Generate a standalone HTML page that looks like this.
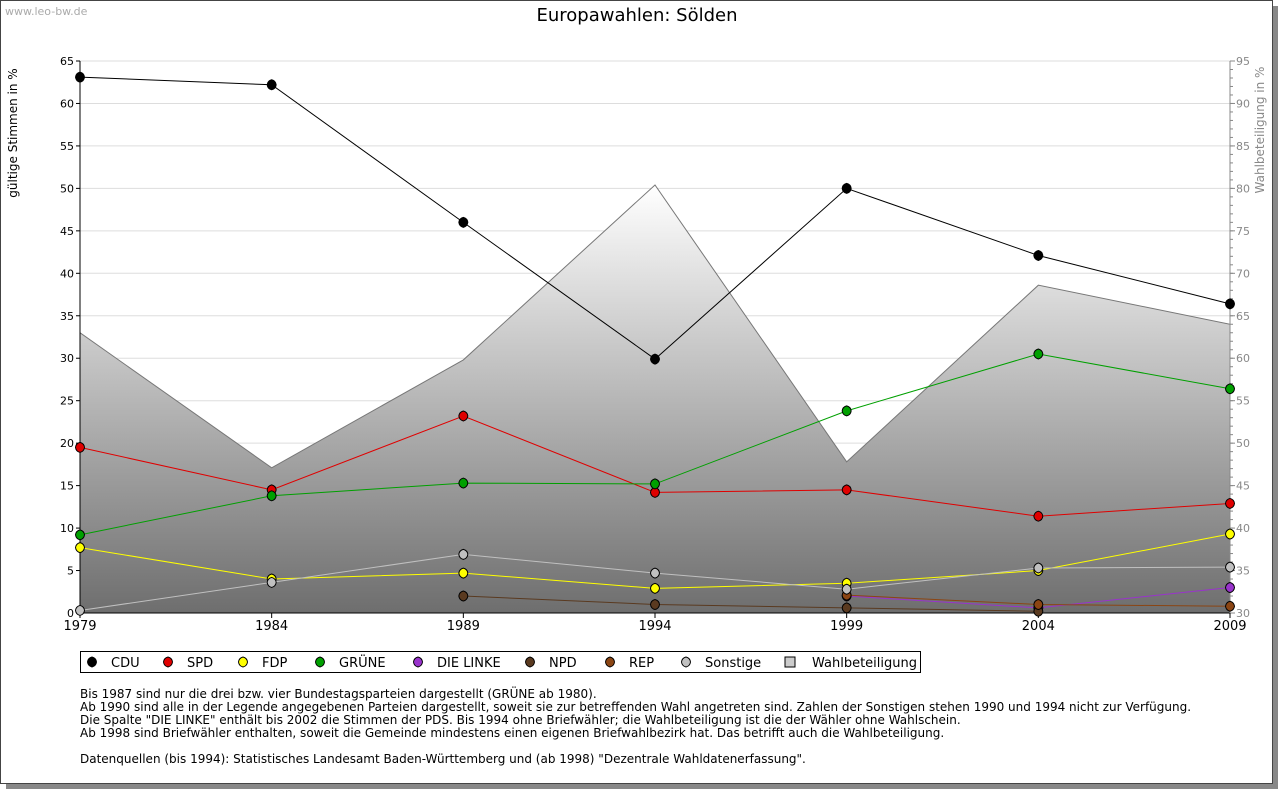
<!DOCTYPE html>
<html><head><meta charset="utf-8"><style>
body{margin:0;background:#fff;font-family:"DejaVu Sans","Liberation Sans",sans-serif;}
#wrap{position:relative;width:1280px;height:791px;}
</style></head><body>
<div id="wrap">
<svg id="svg" width="1280" height="791" xmlns="http://www.w3.org/2000/svg" font-family="DejaVu Sans, Liberation Sans, sans-serif">
<defs>
<linearGradient id="g" x1="0" y1="0" x2="0" y2="1">
<stop offset="0" stop-color="#ffffff"/><stop offset="1" stop-color="#6e6e6e"/></linearGradient>
</defs>
<rect x="6" y="6" width="1272" height="783" fill="#888"/>
<rect x="0.5" y="0.5" width="1272" height="783" fill="#fff" stroke="#444"/>
<text x="5" y="15" font-size="11" fill="#aaa">www.leo-bw.de</text>
<text x="637" y="21" font-size="18" text-anchor="middle" fill="#000">Europawahlen: Sölden</text>
<text transform="translate(17,133) rotate(-90)" font-size="12" text-anchor="middle">gültige Stimmen in %</text>
<text transform="translate(1264,130) rotate(-90)" font-size="12" fill="#888" text-anchor="middle">Wahlbeteiligung in %</text>
<g id="grid"></g><g id="area"></g><g id="axes"></g><g id="lines"></g>
<g>
<rect x="80.5" y="651.5" width="840" height="21" fill="#fff" stroke="#000"/>
<g id="leg"></g></g>
<g font-size="12" fill="#000">
<text x="80" y="698">Bis 1987 sind nur die drei bzw. vier Bundestagsparteien dargestellt (GRÜNE ab 1980).</text>
<text x="80" y="711">Ab 1990 sind alle in der Legende angegebenen Parteien dargestellt, soweit sie zur betreffenden Wahl angetreten sind. Zahlen der Sonstigen stehen 1990 und 1994 nicht zur Verfügung.</text>
<text x="80" y="724">Die Spalte "DIE LINKE" enthält bis 2002 die Stimmen der PDS. Bis 1994 ohne Briefwähler; die Wahlbeteiligung ist die der Wähler ohne Wahlschein.</text>
<text x="80" y="737">Ab 1998 sind Briefwähler enthalten, soweit die Gemeinde mindestens einen eigenen Briefwahlbezirk hat. Das betrifft auch die Wahlbeteiligung.</text>
<text x="80" y="763">Datenquellen (bis 1994): Statistisches Landesamt Baden-Württemberg und (ab 1998) "Dezentrale Wahldatenerfassung".</text>
</g>
</svg>
</div>
<script>
const years=[1979,1984,1989,1994,1999,2004,2009];
const cdu=[63.1,62.2,46.0,29.9,50.0,42.1,36.4];
const spd=[19.5,14.5,23.2,14.2,14.5,11.4,12.9];
const fdp=[7.7,4.0,4.7,2.9,3.5,5.0,9.3];
const gruene=[9.2,13.8,15.3,15.2,23.8,30.5,26.4];
const linke=[null,null,null,null,2.0,0.6,3.0];
const npd=[null,null,2.0,1.0,0.6,0.2,null];
const rep=[null,null,null,null,2.1,1.0,0.8];
const sonstige=[0.3,3.6,6.9,4.7,2.8,5.3,5.4];
const turnout=[63.0,47.1,59.8,80.4,47.8,68.6,64.0];
const leftTicks=[0,5,10,15,20,25,30,35,40,45,50,55,60,65];
const rightTicks=[30,35,40,45,50,55,60,65,70,75,80,85,90,95];
const NS="http://www.w3.org/2000/svg";
const X0=80,X1=1230,Y0=613,Y1=61;
const xs=i=>X0+(X1-X0)*i/(years.length-1);
const ys=v=>Y0-(Y0-Y1)*v/65;
const ys2=v=>Y0-(Y0-Y1)*(v-30)/65;
function mk(t,a,p){const e=document.createElementNS(NS,t);for(const k in a)e.setAttribute(k,a[k]);p.appendChild(e);return e;}
const grid=document.getElementById('grid'),axes=document.getElementById('axes'),lines=document.getElementById('lines'),area=document.getElementById('area'),leg=document.getElementById('leg');
leftTicks.forEach(t=>{const y=ys(t);
 if(t>0){const l=mk('line',{x1:X0,x2:X1,y1:y,y2:y,stroke:'#ddd'},grid);
 
 }
 mk('line',{x1:X0-4,x2:X0,y1:y,y2:y,stroke:'#000'},axes);
 const tx=mk('text',{x:X0-6,y:y+4,'font-size':11,'text-anchor':'end'},axes);tx.textContent=t;
 
 });
rightTicks.forEach(t=>{const y=ys2(t);
 mk('line',{x1:X1,x2:X1+5,y1:y,y2:y,stroke:'#888'},axes);
 const tx=mk('text',{x:X1+6,y:y+4,'font-size':11,fill:'#888'},axes);tx.textContent=t;
 
 });
for(let t=30;t<95;t++){const y=ys2(t);mk('line',{x1:X1,x2:X1+3,y1:y,y2:y,stroke:'#888'},axes);}
let d='M'+X0+','+Y0;turnout.forEach((v,i)=>d+=' L'+xs(i)+','+ys2(v));d+=' L'+X1+','+Y0+'Z';
const ar=mk('path',{d:d,fill:'url(#g)',stroke:'#777'},area);


mk('line',{x1:X0,x2:X1,y1:Y0,y2:Y0,stroke:'#000'},axes);
mk('line',{x1:X0,x2:X0,y1:Y1,y2:Y0,stroke:'#000'},axes);
mk('line',{x1:X1,x2:X1,y1:Y1,y2:Y0,stroke:'#888'},axes);
years.forEach((yr,i)=>{mk('line',{x1:xs(i),x2:xs(i),y1:Y0,y2:Y0+5,stroke:'#000'},axes);
 const tx=mk('text',{x:xs(i),y:Y0+17,'font-size':13,'text-anchor':'middle'},axes);tx.textContent=yr;
 
 });
const series=[['CDU',cdu,'#000'],['SPD',spd,'#e00000'],['FDP',fdp,'#ffff00'],['GRÜNE',gruene,'#00a000'],['DIE LINKE',linke,'#9933cc'],['NPD',npd,'#5a3a20'],['REP',rep,'#8b4513'],['Sonstige',sonstige,'#c0c0c0']];
function diamond(x,y,c,p){return mk('path',{d:`M${x},${y-5}Q${x+4},${y-4} ${x+4.5},${y}Q${x+4},${y+4} ${x},${y+5}Q${x-4},${y+4} ${x-4.5},${y}Q${x-4},${y-4} ${x},${y-5}Z`,fill:c,stroke:'#000','stroke-width':1},p);}
series.forEach(([n,vals,c])=>{const g=mk('g',{},lines);
 
 
 let pd='',pen=false;vals.forEach((v,i)=>{if(v==null){pen=false;return;}pd+=(pen?'L':'M')+xs(i)+','+ys(v);pen=true;});
 mk('path',{d:pd,fill:'none',stroke:c,'stroke-width':1},g);
 vals.forEach((v,i)=>{if(v==null)return;const m=diamond(xs(i),ys(v),c,g);
 
 });});
const legX=[92,168,243,320,418,530,610,686,790];
series.forEach(([n,v,c],i)=>{const g=mk('g',{},leg);
 
 
 diamond(legX[i],662,c,g);
 const t=mk('text',{x:legX[i]+19,y:667,'font-size':13},g);t.textContent=n;});
const g=mk('g',{},leg);


mk('rect',{x:legX[8]-5,y:657,width:10,height:10,fill:'#ccc',stroke:'#000'},g);
const t=mk('text',{x:legX[8]+22,y:667,'font-size':13},g);t.textContent='Wahlbeteiligung';
</script>
</body></html>
